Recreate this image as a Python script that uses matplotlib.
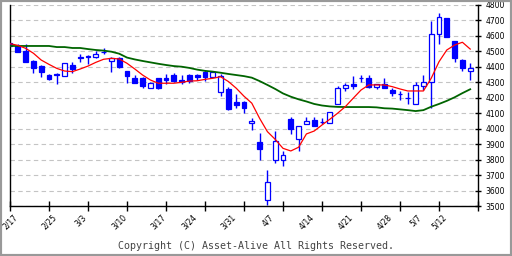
import matplotlib
matplotlib.use("Agg")
import matplotlib.pyplot as plt
from matplotlib.patches import Rectangle

# daily candles, 2/17 .. 5/16
opens = [4554, 4537, 4503, 4438, 4403, 4347, 4352, 4343, 4412, 4462,
         4467, 4462, 4499, 4436, 4456, 4375, 4326, 4328, 4262, 4326,
         4331, 4347, 4318, 4347, 4347, 4369, 4336, 4237, 4255, 4175,
         4175, 4035, 3916, 3539, 3795, 3795, 4063, 3934, 4028, 4056,
         4046, 4035, 4159, 4262, 4289, 4327, 4326, 4268, 4289, 4250,
         4224, 4198, 4159, 4278, 4300, 4610, 4714, 4567, 4444, 4375]
highs = [4556, 4548, 4545, 4445, 4410, 4354, 4358, 4425, 4433, 4481,
         4477, 4505, 4520, 4466, 4462, 4375, 4347, 4337, 4305, 4330,
         4354, 4358, 4347, 4352, 4354, 4380, 4372, 4354, 4268, 4224,
         4178, 4067, 3970, 3733, 3985, 3856, 4078, 4017, 4078, 4078,
         4072, 4106, 4273, 4294, 4343, 4347, 4347, 4289, 4326, 4262,
         4244, 4240, 4300, 4347, 4697, 4746, 4714, 4567, 4449, 4423]
lows = [4535, 4498, 4430, 4362, 4336, 4315, 4289, 4343, 4358, 4433,
        4418, 4456, 4483, 4369, 4390, 4294, 4298, 4262, 4262, 4257,
        4287, 4305, 4289, 4294, 4315, 4310, 4336, 4213, 4119, 4132,
        4100, 3992, 3798, 3505, 3776, 3759, 3964, 3856, 4028, 4015,
        4028, 4035, 4159, 4246, 4257, 4300, 4262, 4258, 4262, 4214,
        4186, 4160, 4159, 4250, 4132, 4546, 4596, 4433, 4375, 4315]
closes = [4535, 4498, 4433, 4391, 4369, 4324, 4350, 4425, 4386, 4455,
          4465, 4483, 4497, 4456, 4401, 4338, 4298, 4278, 4294, 4266,
          4318, 4310, 4301, 4308, 4337, 4336, 4366, 4341, 4126, 4153,
          4136, 4050, 3869, 3653, 3922, 3830, 3998, 4015, 4050, 4020,
          4044, 4106, 4262, 4283, 4278, 4325, 4268, 4289, 4262, 4233,
          4222, 4196, 4283, 4300, 4610, 4722, 4596, 4456, 4390, 4390]
ma_short = [4550, 4539, 4520, 4488, 4444, 4416, 4390, 4373, 4369, 4386,
            4405, 4429, 4449, 4455, 4451, 4423, 4386, 4347, 4315, 4294,
            4294, 4294, 4300, 4308, 4310, 4319, 4326, 4336, 4305, 4262,
            4210, 4165, 4067, 3981, 3931, 3873, 3856, 3880, 3966, 3985,
            4024, 4061, 4100, 4143, 4197, 4250, 4283, 4283, 4283, 4272,
            4257, 4244, 4244, 4244, 4326, 4433, 4509, 4541, 4559, 4515]
ma_long = [4535, 4535, 4535, 4535, 4535, 4535, 4528, 4528, 4522, 4522,
           4515, 4509, 4505, 4498, 4485, 4460, 4448, 4438, 4429, 4420,
           4412, 4405, 4401, 4393, 4382, 4374, 4369, 4362, 4354, 4347,
           4340, 4330, 4308, 4283, 4257, 4228, 4207, 4190, 4176, 4160,
           4150, 4144, 4141, 4140, 4140, 4140, 4140, 4138, 4132, 4130,
           4125, 4120, 4114, 4120, 4142, 4160, 4180, 4203, 4230, 4255]
date_pos = [0, 5, 9, 14, 19, 23, 28, 33, 38, 43, 48, 52, 55]
date_labels = ['2/17', '2/25', '3/3', '3/10', '3/17', '3/24', '3/31',
               '4/7', '4/14', '4/21', '4/28', '5/7', '5/12']
price_ticks = list(range(3500, 4801, 100))

fig = plt.figure(figsize=(5.12, 2.56), dpi=100)
ax = fig.add_axes([10 / 512, 50 / 256, 468 / 512, 201 / 256])

for p in price_ticks:
    ax.axhline(p, color='#c4c4c4', lw=0.8, ls=(0, (4, 3)), zorder=0)

idx = list(range(len(opens)))
blue = '#0000ff'
ax.vlines(idx, lows, highs, color=blue, lw=1, zorder=2)
for i in idx:
    o, c = opens[i], closes[i]
    up = c >= o
    ax.bar(i, abs(c - o), bottom=min(o, c), width=0.62,
           color='white' if up else blue, edgecolor=blue, lw=0.9, zorder=3)

ax.plot(idx, ma_long, color='#006400', lw=1.3, zorder=4)
ax.plot(idx, ma_short, color='#ff0000', lw=0.9, zorder=4)

ax.set_xlim(0, 60)
ax.set_ylim(3500, 4800)
ax.xaxis.remove_overlapping_locs = False
ax.set_xticks(range(0, 61, 5))
ax.set_xticklabels([])
ax.set_xticks(date_pos, date_labels, minor=True)
ax.tick_params(axis='x', which='major', direction='inout', length=7, width=1)
ax.tick_params(axis='x', which='minor', length=0, pad=5, labelsize=5.5,
               labelrotation=45)
for t in ax.get_xticklabels(minor=True):
    t.set_ha('center')

ax.yaxis.tick_right()
ax.set_yticks(price_ticks)
ax.tick_params(axis='y', direction='inout', length=5, width=1, labelsize=5.5, pad=3)

ax.spines['top'].set_visible(False)
for s in ['left', 'right', 'bottom']:
    ax.spines[s].set_linewidth(1)
    ax.spines[s].set_color('black')

fig.text(0.5, 10 / 256, 'Copyright (C) Asset-Alive All Rights Reserved.',
         ha='center', va='center', fontsize=7.2, family='DejaVu Sans Mono',
         color='#444444')

fig.patches.append(Rectangle((0, 0), 1, 1, transform=fig.transFigure,
                             fill=False, edgecolor='#999999', lw=3))

fig.savefig('out.png', dpi=100)
